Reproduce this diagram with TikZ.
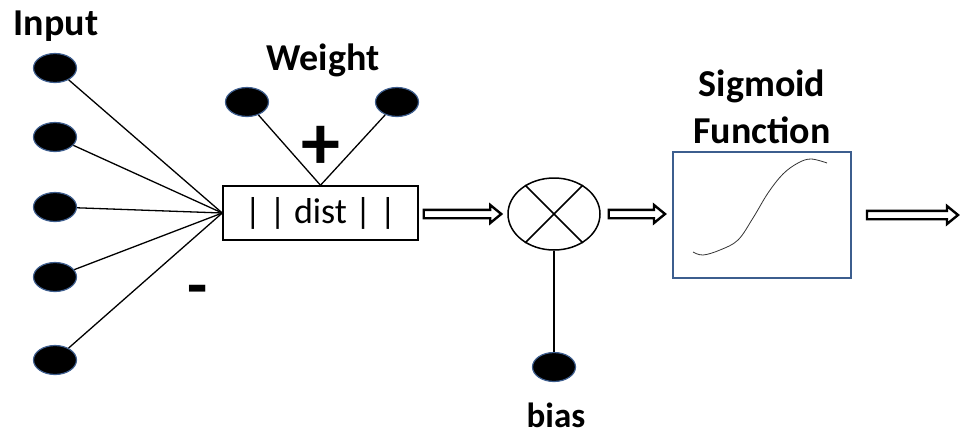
\documentclass[tikz,border=0pt]{standalone}
\usepackage{fontspec}
\setmainfont{Carlito}
\usetikzlibrary{shapes.geometric,calc}
\definecolor{rimblue}{HTML}{3F5F8F}
\definecolor{boxblue}{HTML}{3C5E8E}
\begin{document}
\begin{tikzpicture}[x=1pt,y=-1pt,
  dot/.style={ellipse,draw=rimblue,fill=black,line width=1.2pt,minimum width=43pt,minimum height=29pt,inner sep=0pt},
  wire/.style={line width=1.3pt,black},
  hollow/.style={draw,fill=white,line width=2.4pt,line join=miter,
    to path={let \p1=(\tikztostart), \p2=(\tikztotarget) in
      (\x1,{\y1+4.2pt}) -- ({\x2-11pt},{\y1+4.2pt}) -- ({\x2-11pt},{\y1+9pt}) -- (\x2,\y1)
      -- ({\x2-11pt},{\y1-9pt}) -- ({\x2-11pt},{\y1-4.2pt}) -- (\x1,{\y1-4.2pt}) -- cycle}},
  lbl/.style={font=\bfseries\fontsize{38}{40}\selectfont,inner sep=0pt}]
\useasboundingbox (0,0) rectangle (961,437);
% input nodes
\node[dot] (i1) at (55,68) {};
\node[dot] (i2) at (55,137) {};
\node[dot] (i3) at (55,207) {};
\node[dot] (i4) at (55,277) {};
\node[dot] (i5) at (55,360) {};
\node[lbl] (tin) at (56,26) {Input};
% dist box
\node[draw,line width=1.5pt,minimum width=195pt,minimum height=54pt,inner sep=0pt,font=\fontsize{36}{38}\selectfont] (dist) at (320.5,213) {| | dist | |};
% weights
\node[dot] (w1) at (247,102) {};
\node[dot] (w2) at (397,102) {};
\node[lbl] (tw) at (323,60) {Weight};
\node[lbl,font=\bfseries\fontsize{78}{80}\selectfont] (plus) at (321,148) {+};
\node[lbl,font=\bfseries\fontsize{66}{70}\selectfont] (minus) at (198,296) {-};
% wires
\foreach \n in {i1,i2,i3,i4,i5} \draw[wire] (\n) -- (dist.west);
\draw[wire] (w1) -- (dist.north);
\draw[wire] (w2) -- (dist.north);
% multiplier
\node[ellipse,draw,line width=1.5pt,minimum width=92pt,minimum height=72pt,inner sep=0pt] (mult) at (554,214) {};
\draw[line width=1.5pt] (mult.45) -- (mult.225);
\draw[line width=1.5pt] (mult.135) -- (mult.315);
\node[dot] (bias) at (554,367) {};
\draw[wire] (mult.south) -- (bias);
\node[lbl,font=\bfseries\fontsize{35}{37}\selectfont,anchor=base] (tb) at (556,427) {bias};
% sigmoid box
\node[draw=boxblue,line width=2pt,minimum width=178pt,minimum height=126pt,inner sep=0pt] (sig) at (762,215) {};
\node[lbl] (ts1) at (762,86) {Sigmoid};
\node[lbl] (ts2) at (762,130) {Function};
\draw[line width=0.8pt,black!80] plot[smooth,tension=0.6] coordinates {(693,252) (703,255) (720,250) (738,240) (753,218) (768,193) (783,174) (798,163) (811,159) (827,163)};
% arrows
\coordinate (out) at (958,213);
\path[hollow] ([xshift=5pt]dist.east |- mult.west) to ([xshift=-6pt]mult.west);
\path[hollow] ([xshift=8pt]mult.east) to ([xshift=-7pt]sig.west);
\path[hollow] ([xshift=15pt]sig.east) to (out);
\end{tikzpicture}
\end{document}
